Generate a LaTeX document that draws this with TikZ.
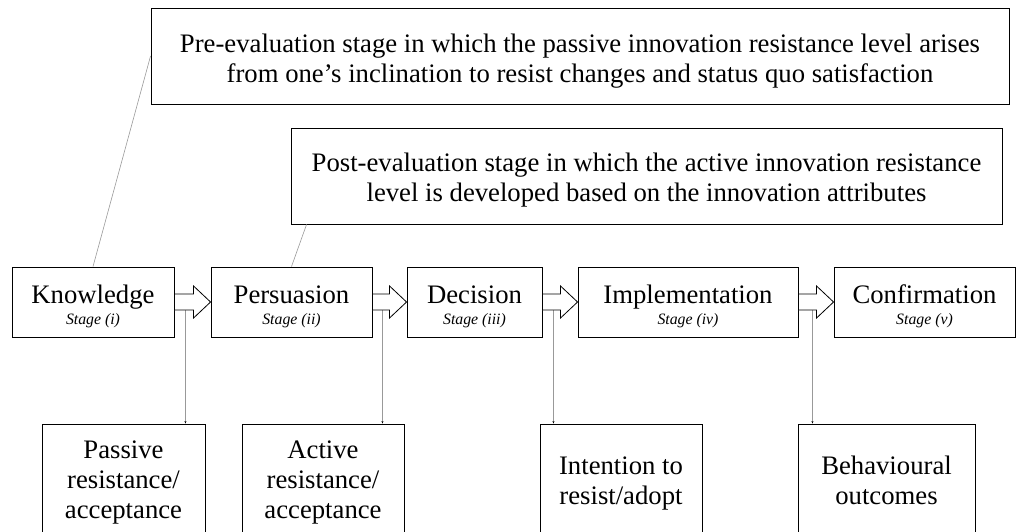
\documentclass[tikz,border=0pt]{standalone}
\usepackage{fontspec}
\setmainfont{Liberation Serif}
\usetikzlibrary{calc,arrows.meta}

\tikzset{
  frame/.style={draw=black, line width=0.9pt, fill=white, inner xsep=0pt, inner ysep=0pt,
    align=center, font=\fontsize{26.7}{30}\selectfont},
  stagebox/.style={frame, minimum width=#1, text height=57pt, text depth=13pt,
    font=\fontsize{26.7}{21}\selectfont},
  note/.style={frame, minimum width=#1},
  outcome/.style={frame, minimum width=#1},
  guide/.style={draw=black!40, line width=0.6pt},
  drop/.style={guide, -{Stealth[length=2.5pt,width=2pt,black]}},
  blockarrow/.style={draw=black, line width=0.8pt, fill=white},
}

% hollow block arrow from the east side of #1 to the west side of #2
\newcommand\stagearrow[2]{%
  \draw[blockarrow] ($(#1.east)+(0,-8)$) -- ($(#2.west)+(-17,-8)$)
    -- ($(#2.west)+(-17,-16)$) -- (#2.west) -- ($(#2.west)+(-17,16)$)
    -- ($(#2.west)+(-17,8)$) -- ($(#1.east)+(0,8)$) -- cycle;}
\newcommand\stagelabel[2]{#1\\{\fontsize{15.8}{21}\selectfont\itshape #2}}

\begin{document}
\begin{tikzpicture}[x=1pt, y=-1pt]
\useasboundingbox (0,0) rectangle (1016,531);
\clip (0,0) rectangle (1016,531);

% evaluation notes
\node[note=858, text height=74pt, text depth=22pt] (pre) at (580,56)
  {Pre-evaluation stage in which the passive innovation resistance level arises\\
   from one’s inclination to resist changes and status quo satisfaction};
\node[note=711, text height=73pt, text depth=23pt] (post) at (646.5,176)
  {Post-evaluation stage in which the active innovation resistance\\
   level is developed based on the innovation attributes};

% the five stages
\node[stagebox=162] (k) at (93,302)    {\stagelabel{Knowledge}{Stage (i)}};
\node[stagebox=161] (p) at (291.5,302) {\stagelabel{Persuasion}{Stage (ii)}};
\node[stagebox=135] (d) at (474.5,302) {\stagelabel{Decision}{Stage (iii)}};
\node[stagebox=220] (i) at (688,302)   {\stagelabel{Implementation}{Stage (iv)}};
\node[stagebox=181] (c) at (924.5,302) {\stagelabel{Confirmation}{Stage (v)}};

% outcomes
\node[outcome=163, text height=94pt, text depth=20pt] (pa) at (123.5,481)
  {Passive\\resistance/\\acceptance};
\node[outcome=162, text height=94pt, text depth=20pt] (aa) at (323,481)
  {Active\\resistance/\\acceptance};
\node[outcome=162, text height=80pt, text depth=34pt] (ia) at (621,481)
  {Intention to\\resist/adopt};
\node[outcome=177, text height=80pt, text depth=34pt] (bo) at (886.5,481)
  {Behavioural\\outcomes};

% leader lines to the notes
\coordinate (postfoot) at ($(post.south west)+(16,0)$);
\draw[guide] (k.north) -- (pre.west);
\draw[guide] (p.north) -- (postfoot);

% drop lines from the arrows to the outcomes
\coordinate (s1) at ($(k.east)+(11,8)$);
\coordinate (s2) at ($(p.east)+(10,8)$);
\coordinate (s3) at ($(d.east)+(11,8)$);
\coordinate (s4) at ($(i.east)+(14,8)$);
\draw[drop] (s1) -- (s1 |- pa.north);
\draw[drop] (s2) -- (s2 |- aa.north);
\draw[drop] (s3) -- (s3 |- ia.north);
\draw[drop] (s4) -- (s4 |- bo.north);

% stage arrows
\stagearrow{k}{p}
\stagearrow{p}{d}
\stagearrow{d}{i}
\stagearrow{i}{c}
\end{tikzpicture}
\end{document}
